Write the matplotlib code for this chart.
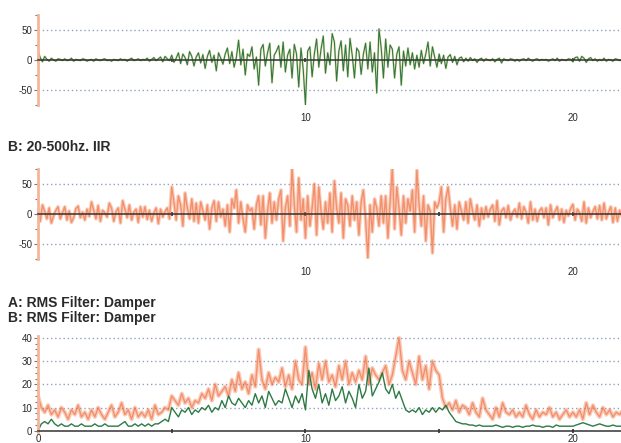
import matplotlib
matplotlib.use("Agg")
import matplotlib.pyplot as plt
import numpy as np
from matplotlib.ticker import MultipleLocator, NullFormatter

# raw filtered traces: 12 samples per time unit, RMS traces: 8 per unit
RAW_STEP = 1 / 12
RMS_STEP = 0.125

filt_a = [
    15, 4, -3, 6, 1, -2, 3, 0, -2, 2, 1, -1,
    2, -1, 0, 3, -2, 1, 0, -1, 2, 1, -2, 0,
    1, -2, 2, 0, -1, 1, 2, -1, 0, -2, 1, 0,
    -1, 2, 0, 1, -2, 1, 3, -1, 0, 2, -1, 1,
    0, 3, -2, 1, 4, -1, 2, 5, -3, 6, 2, -1,
    8, -4, 3, 12, -6, 10, 4, -8, 14, 6, -10, 5,
    12, -5, 9, -14, 6, 16, -4, 8, -18, 12, 3, -7,
    10, 20, -6, 14, -12, 4, 33, -8, 18, -25, 10, 6,
    22, -15, 5, -42, 18, 26, -10, 12, 28, -38, 8, 15,
    24, -12, 30, -20, 8, 18, -30, 26, 10, -45, 20, -15,
    -75, 15, 22, -28, 10, 35, -12, 18, 40, -22, 12, -8,
    44, 30, -35, 15, 32, -18, 25, -28, 36, 8, -30, 20,
    14, -24, 10, 28, -15, 30, -20, 12, -55, 52, 20, -30,
    35, -12, 25, 18, -30, 10, 22, -42, 15, -10, 20, -8,
    12, -15, 8, -12, 16, -6, 10, 30, -10, 22, 5, -12,
    10, -6, 8, -14, 5, 9, -4, 6, -8, 3, 5, -3,
    3, -2, 4, -1, 2, -4, 1, 3, -2, 2, 0, -1,
    2, -3, 1, 3, -5, 2, 0, -1, 2, 1, -2, 1,
    -2, 1, 2, -1, 3, 0, -2, 1, 2, -1, 1, 0,
    1, -2, 0, 2, -1, 3, -2, 1, 0, -1, 2, 1,
    -3, 4, 5, -2, 6, 3, -4, 2, 4, -1, 2, -2,
    1, -1, 3, -2, 1, 0, -2, 2, 1, -1, 0, 1,
]

filt_b = [
    8, -12, 15, 4, -8, 10, -15, -3, 6, 12, -8, 2,
    12, -10, 5, -14, -6, 9, 13, -6, 3, -10, 8, -4,
    20, 6, -8, 14, -12, 6, 2, -5, 18, 10, -12, 4,
    10, -15, 22, 8, -6, 15, -10, 3, 8, -14, 12, -5,
    12, -9, 6, -12, 2, 10, -16, 8, -5, 4, 10, -8,
    45, 20, -10, 30, 15, -20, 35, 10, -8, 25, -12, 18,
    -15, 20, 5, -10, 15, -25, 10, 22, -12, 20, -5, 8,
    -20, 15, -30, 25, 10, 40, -15, 20, -8, -30, 15, 5,
    10, -25, 15, 30, -18, 30, -40, 5, 35, -15, 20, -10,
    25, 40, -45, 10, 30, -20, 78, 15, -30, 60, -10, 25,
    -40, 30, -20, 10, 50, -35, 45, 5, -25, 20, -15, 35,
    -30, 55, 10, -15, 35, -40, 25, 15, -20, 30, -10, 20,
    -35, 20, 40, -10, -73, 15, -30, 25, 10, -20, 30, -15,
    30, -40, 20, 77, -25, 45, 10, -35, 30, -15, 25, 5,
    40, -30, 73, 15, -20, 30, -45, 15, 5, -65, 20, 10,
    20, 45, -30, 25, 45, 10, -20, 15, -25, 20, 5, -10,
    20, -15, 25, 5, -10, 15, -20, 10, -8, 12, -5, 8,
    15, -12, 22, -18, 5, 10, -6, 14, -10, 2, 8, -5,
    18, -8, 12, 3, -15, 20, -10, 8, -12, 5, 10, -6,
    10, -18, 15, -6, 4, 12, -10, 8, -14, 6, -3, 9,
    16, -10, 8, 2, -12, 20, -15, 10, -6, 4, 12, -8,
    14, -10, 18, -8, 3, 12, -14, 10, -12, 6, -4, 8,
]

rms_a = [
    0, 3, 4, 3, 5, 3, 2, 3,
    2, 2, 3, 2, 2, 3, 2, 2,
    2, 3, 2, 2, 3, 2, 2, 2,
    2, 3, 4, 2, 2, 3, 2, 3,
    2, 3, 2, 3, 3, 4, 5, 4,
    10, 8, 6, 9, 8, 10, 7, 9,
    8, 10, 9, 11, 8, 10, 9, 13,
    10, 15, 12, 11, 14, 12, 10, 13,
    11, 16, 12, 15, 10, 17, 14, 11,
    13, 12, 18, 14, 10, 15, 12, 16,
    9, 26, 18, 14, 20, 12, 16, 11,
    18, 13, 15, 19, 12, 17, 14, 10,
    20, 14, 17, 27, 15, 18, 21, 25,
    18, 16, 20, 14, 17, 13, 9, 8,
    9, 8, 10, 7, 9, 8, 10, 8,
    10, 9, 11, 8, 6, 4, 3.5, 3,
    3, 2.5, 2.5, 2, 2.5, 2, 2, 2,
    2, 2.5, 2, 1.5, 2, 2, 1.5, 2,
    2, 1.5, 2, 2, 2.5, 2, 2, 1.5,
    2, 2, 1.5, 2.5, 2, 2, 2, 2,
    2, 2.5, 3, 3.5, 3, 2.5, 2, 2.5,
    3, 2.5, 2, 2, 2.5, 2, 2, 2,
]

rms_b = [
    15, 10, 8, 11, 7, 9, 6, 10,
    8, 5, 9, 7, 11, 6, 8, 5,
    9, 6, 10, 7, 5, 8, 11, 6,
    8, 12, 7, 9, 5, 10, 6, 8,
    6, 9, 5, 11, 7, 8, 10, 9,
    15, 13, 11, 16, 12, 14, 10, 13,
    12, 16, 14, 18, 13, 20, 15, 17,
    19, 15, 22, 17, 25, 18, 21, 16,
    24, 19, 35, 22, 18, 25, 20, 23,
    21, 27, 19, 24, 18, 30, 22, 20,
    36, 20, 25, 18, 29, 22, 30, 21,
    24, 19, 28, 22, 30, 20, 25, 21,
    26, 22, 32, 20, 27, 24, 22, 25,
    28, 20, 24, 32, 40, 26, 22, 30,
    25, 20, 32, 22, 28, 18, 30, 26,
    24, 14, 10, 12, 9, 13, 8, 11,
    10, 7, 12, 8, 6, 14, 9, 7,
    5, 10, 6, 12, 8, 7, 9, 6,
    8, 6, 11, 7, 5, 9, 6, 8,
    7, 10, 6, 8, 5, 7, 9, 6,
    8, 6, 9, 5, 12, 7, 11, 8,
    6, 10, 7, 9, 6, 8, 7, 9,
]

GREEN = "#2d7a45"
HALO = "#d9c36a"
ORANGE = "#f06a38"
SPINE = "#f5b59a"
GRID = "#8fa3bb"
TEXT = "#2a2a2a"
XMAX = 21.8

t_raw = np.arange(len(filt_a)) * RAW_STEP
t_rms = np.arange(len(rms_a)) * RMS_STEP

plt.rcParams["font.family"] = ["Liberation Sans", "DejaVu Sans"]
plt.rcParams["axes.unicode_minus"] = False

fig = plt.figure(figsize=(6.21, 4.43), dpi=100)
fig.patch.set_facecolor("white")

ax1 = fig.add_axes([38 / 621, 1 - 105 / 443, 1 - 38 / 621, 90 / 443])
ax2 = fig.add_axes([38 / 621, 1 - 259 / 443, 1 - 38 / 621, 90 / 443])
ax3 = fig.add_axes([38 / 621, 1 - 432 / 443, 1 - 38 / 621, 96 / 443])


def style_left(ax):
    for s in ("top", "right"):
        ax.spines[s].set_visible(False)
    ax.spines["left"].set_color(SPINE)
    ax.spines["left"].set_linewidth(2)
    ax.spines["bottom"].set_position(("data", 0))
    ax.spines["bottom"].set_color("#333333")
    ax.spines["bottom"].set_linewidth(1.1)
    ax.spines["bottom"].set_zorder(5)
    ax.tick_params(axis="y", length=3, width=0.8, color="#777777", labelsize=7, labelcolor=TEXT, pad=1)
    ax.tick_params(axis="y", which="minor", length=2, width=0.8, color="#777777")


def style_wave(ax):
    ax.set_xlim(0, XMAX)
    ax.set_ylim(-75, 75)
    style_left(ax)
    ax.xaxis.set_major_locator(MultipleLocator(5))
    ax.xaxis.set_major_formatter(NullFormatter())
    ax.tick_params(axis="x", direction="inout", length=3, width=1.2, color="#333333")
    ax.set_yticks([-50, 0, 50])
    ax.yaxis.set_minor_locator(MultipleLocator(25))
    for yv in (-50, 50):
        ax.axhline(yv, color=GRID, lw=1, ls=(0, (1, 2)), zorder=0)
    sec = ax.secondary_xaxis("bottom")
    sec.set_xticks([10, 20])
    sec.tick_params(length=0, labelsize=7, labelcolor=TEXT, pad=6)
    sec.spines["bottom"].set_visible(False)


def soft_line(ax, x, y, wide):
    # blurry orange trace: wide translucent stroke with a stronger core
    ax.plot(x, y, color=ORANGE, lw=wide, alpha=0.35, solid_capstyle="round")
    ax.plot(x, y, color=ORANGE, lw=1.0, alpha=0.6)


style_wave(ax1)
ax1.plot(t_raw, filt_a, color=HALO, lw=1.6, alpha=0.5)
ax1.plot(t_raw, filt_a, color=GREEN, lw=0.8)

style_wave(ax2)
soft_line(ax2, t_raw, filt_b, 2.6)

# RMS panel
ax3.set_xlim(0, XMAX)
ax3.set_ylim(-0.5, 40.8)
style_left(ax3)
ax3.set_yticks([0, 10, 20, 30, 40])
ax3.yaxis.set_minor_locator(MultipleLocator(2.5))
ax3.set_xticks([0, 5, 10, 15, 20])
ax3.set_xticklabels(["0", "", "10", "", "20"])
ax3.tick_params(axis="x", direction="inout", length=3, width=1.2, color="#333333",
                labelsize=7, labelcolor=TEXT, pad=1)
for yv in (10, 20, 30, 40):
    ax3.axhline(yv, color=GRID, lw=1, ls=(0, (1, 2)), zorder=0)
soft_line(ax3, t_rms, rms_b, 3.0)
ax3.plot(t_rms, rms_a, color=GREEN, lw=1.0)

# panel headers (the first one is cut by the top edge, as in the source)
fig.text(0.013, 1 - 2 / 443, "A: 20-500hz. IIR", fontsize=10, fontweight="bold",
         color="#d0d0d0", va="bottom", ha="left")
fig.text(0.013, 1 - 147 / 443, "B: 20-500hz. IIR", fontsize=10, fontweight="bold",
         color=TEXT, va="center", ha="left")
fig.text(0.013, 1 - 303 / 443, "A: RMS Filter: Damper", fontsize=10, fontweight="bold",
         color=TEXT, va="center", ha="left")
fig.text(0.013, 1 - 318 / 443, "B: RMS Filter: Damper", fontsize=10, fontweight="bold",
         color=TEXT, va="center", ha="left")

fig.savefig("out.png", dpi=100, facecolor="white")
